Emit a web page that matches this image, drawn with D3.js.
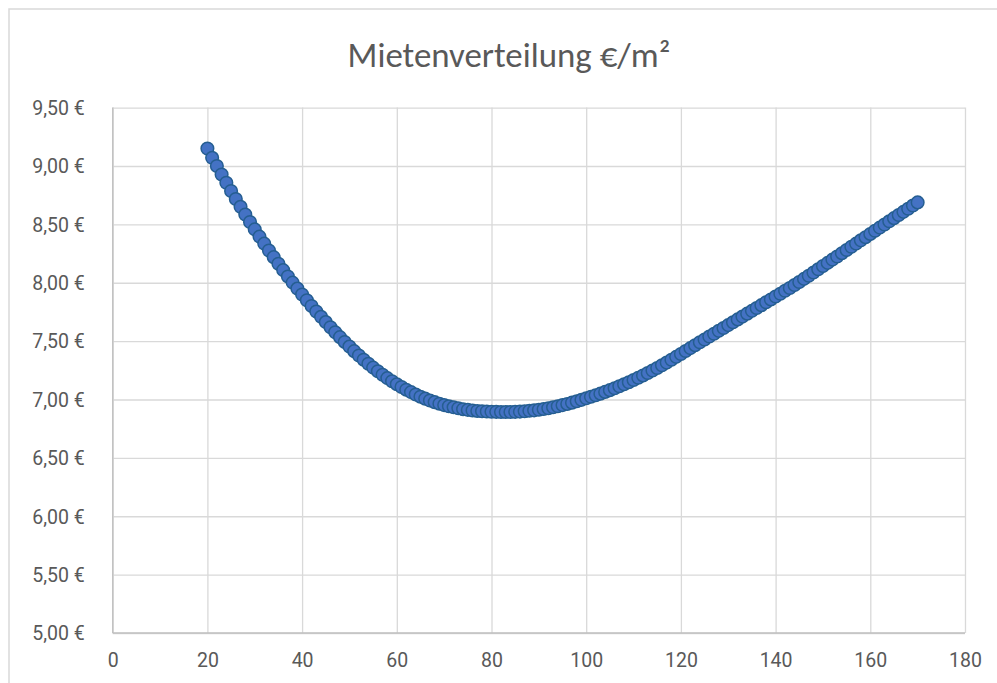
<!DOCTYPE html>
<html><head><meta charset="utf-8">
<script src="https://cdn.jsdelivr.net/npm/d3@7/dist/d3.min.js"></script>
<style>body{margin:0;background:#fff;} svg{display:block;}</style>
</head><body>
<svg id="c" width="997" height="683"></svg>
<script>
const chartTitle = "Mietenverteilung €/m²";
const areas = [20,21,22,23,24,25,26,27,28,29,30,31,32,33,34,35,36,37,38,39,40,41,42,43,44,45,46,47,48,49,50,51,52,53,54,55,56,57,58,59,60,61,62,63,64,65,66,67,68,69,70,71,72,73,74,75,76,77,78,79,80,81,82,83,84,85,86,87,88,89,90,91,92,93,94,95,96,97,98,99,100,101,102,103,104,105,106,107,108,109,110,111,112,113,114,115,116,117,118,119,120,121,122,123,124,125,126,127,128,129,130,131,132,133,134,135,136,137,138,139,140,141,142,143,144,145,146,147,148,149,150,151,152,153,154,155,156,157,158,159,160,161,162,163,164,165,166,167,168,169,170];
const rents = [9.150,9.070,9.000,8.927,8.856,8.786,8.717,8.650,8.584,8.520,
8.457,8.395,8.335,8.276,8.219,8.163,8.108,8.054,8.001,7.950,
7.899,7.850,7.801,7.754,7.708,7.663,7.619,7.576,7.534,7.493,
7.453,7.414,7.377,7.341,7.306,7.273,7.242,7.212,7.183,7.156,
7.131,7.107,7.084,7.063,7.043,7.024,7.007,6.991,6.977,6.964,
6.952,6.942,6.933,6.925,6.917,6.911,6.906,6.902,6.899,6.897,
6.895,6.894,6.893,6.893,6.893,6.894,6.896,6.899,6.903,6.907,
6.912,6.918,6.925,6.933,6.942,6.952,6.962,6.973,6.985,6.997,
7.010,7.023,7.036,7.050,7.065,7.080,7.096,7.113,7.130,7.148,
7.167,7.186,7.206,7.227,7.248,7.270,7.293,7.316,7.340,7.365,
7.390,7.415,7.440,7.465,7.490,7.514,7.539,7.563,7.588,7.612,
7.637,7.661,7.686,7.710,7.735,7.759,7.784,7.808,7.833,7.857,
7.882,7.906,7.931,7.955,7.980,8.006,8.033,8.060,8.088,8.115,
8.143,8.170,8.198,8.225,8.253,8.280,8.308,8.335,8.363,8.390,
8.418,8.445,8.472,8.499,8.526,8.553,8.580,8.607,8.634,8.661,
8.688];
const xTicks = [0,20,40,60,80,100,120,140,160,180];
const yTicks = [5.0,5.5,6.0,6.5,7.0,7.5,8.0,8.5,9.0,9.5];

const svg = d3.select("#c");
const L = 112.7, R = 965, T = 107.6, B = 633;
const x = d3.scaleLinear().domain([0,180]).range([L,R]);
const y = d3.scaleLinear().domain([5,9.5]).range([B,T]);

// chart border
svg.append("rect").attr("x",9).attr("y",9).attr("width",1000).attr("height",700)
  .attr("fill","#fff").attr("stroke","#d9d9d9").attr("stroke-width",1.5);

// gridlines
const yGrid = d3.axisLeft(y).tickValues(yTicks).tickSize(-(R-L)).tickFormat("");
svg.append("g").attr("transform",`translate(${L},0)`).call(yGrid)
  .call(g=>g.select(".domain").remove())
  .call(g=>g.selectAll("line").attr("stroke","#d9d9d9").attr("stroke-width",1.3));
const xGrid = d3.axisBottom(x).tickValues(xTicks).tickSize(-(B-T)).tickFormat("");
svg.append("g").attr("transform",`translate(0,${B})`).call(xGrid)
  .call(g=>g.select(".domain").remove())
  .call(g=>g.selectAll("line").attr("stroke","#d9d9d9").attr("stroke-width",1.3));

// axis lines
svg.append("line").attr("x1",L).attr("x2",L).attr("y1",T).attr("y2",B).attr("stroke","#bfbfbf").attr("stroke-width",1.3);
svg.append("line").attr("x1",L).attr("x2",R).attr("y1",B).attr("y2",B).attr("stroke","#bfbfbf").attr("stroke-width",1.3);

// y labels
const fmtY = v => d3.format(".2f")(v).replace(".", ",") + " €";
const yAx = d3.axisLeft(y).tickValues(yTicks).tickSize(0).tickPadding(28).tickFormat(fmtY);
svg.append("g").attr("transform",`translate(${L},0)`).call(yAx)
  .call(g=>g.select(".domain").remove())
  .call(g=>g.selectAll("text").attr("fill","#595959").attr("font-family","Roboto, sans-serif").attr("font-size",19.5).attr("dy","0.35em"));

// x labels
const xAx = d3.axisBottom(x).tickValues(xTicks).tickSize(0).tickPadding(20).tickFormat(d3.format("d"));
svg.append("g").attr("transform",`translate(0,${B})`).call(xAx)
  .call(g=>g.select(".domain").remove())
  .call(g=>g.selectAll("text").attr("fill","#595959").attr("font-family","Roboto, sans-serif").attr("font-size",19.5));

// points
const pts = areas.map((a,i)=>({a, r: rents[i]}));
svg.append("g").selectAll("circle").data(pts).join("circle")
  .attr("cx", d=>x(d.a)).attr("cy", d=>y(d.r)).attr("r",6.3)
  .attr("fill","#4472c4").attr("stroke","#255e91").attr("stroke-width",1.5);

// title
const t = svg.append("text").attr("x",509).attr("y",67).attr("text-anchor","middle")
  .attr("font-family","Carlito, Lato, sans-serif").attr("font-size",30).attr("fill","#595959").text(chartTitle);
const w = t.node().getComputedTextLength();
if (w > 0) t.attr("font-size", 30 * 323 / w);
</script>
</body></html>
